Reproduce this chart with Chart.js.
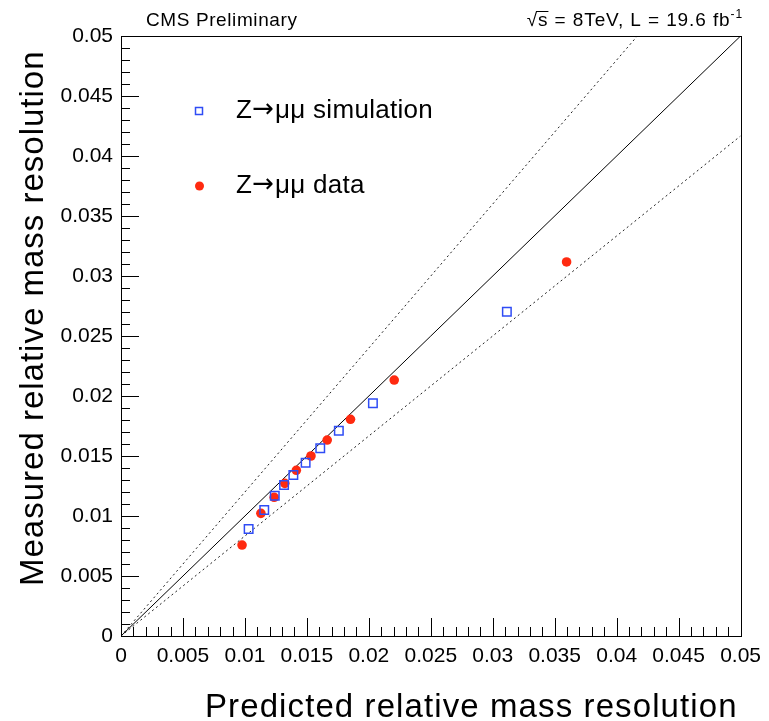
<!DOCTYPE html>
<html>
<head>
<meta charset="utf-8">
<script src="https://cdn.jsdelivr.net/npm/chart.js@4.4.1/dist/chart.umd.min.js"></script>
<style>
  html, body { margin: 0; padding: 0; background: #fff; }
  #c { display: block; }
</style>
</head>
<body>
<canvas id="c" width="769" height="721"></canvas>
<script>
'use strict';

// ===== data =====
const simX  = [0.0103, 0.01156, 0.01241, 0.01316, 0.01391, 0.0149, 0.01608, 0.01758, 0.02033, 0.03114];
const simY  = [0.00892, 0.0105, 0.01169, 0.01258, 0.01342, 0.01444, 0.01564, 0.01711, 0.01939, 0.02703];
const dataX = [0.00977, 0.01129, 0.01236, 0.01322, 0.01415, 0.01533, 0.01664, 0.01852, 0.02205, 0.03596];
const dataY = [0.00758, 0.01022, 0.01156, 0.01272, 0.01381, 0.0150, 0.01633, 0.01806, 0.02133, 0.03117];

// reference lines (end points)
const diagX  = [0, 0.05];
const diagY  = [0, 0.05];
const upperX = [0, 0.04167];
const upperY = [0, 0.05];
const lowerX = [0, 0.05];
const lowerY = [0, 0.04167];

const xTickLabels = ['0', '0.005', '0.01', '0.015', '0.02', '0.025', '0.03', '0.035', '0.04', '0.045', '0.05'];
const yTickLabels = ['0', '0.005', '0.01', '0.015', '0.02', '0.025', '0.03', '0.035', '0.04', '0.045', '0.05'];

const simLabel  = 'Z\u2192\u03bc\u03bc simulation';
const dataLabel = 'Z\u2192\u03bc\u03bc data';

// ===== style =====
const BLUE = '#2f4cf5';
const RED  = '#ff2a10';
const FONT = '"Liberation Sans", Arial, Helvetica, sans-serif';

function pts(xs, ys) {
  return xs.map((x, i) => ({ x: x, y: ys[i] }));
}

function text(ctx, str, x, y, size, align, spacing, family) {
  ctx.font = size + 'px ' + (family || FONT);
  ctx.letterSpacing = (spacing || 0) + 'px';
  ctx.textAlign = align || 'left';
  ctx.textBaseline = 'alphabetic';
  ctx.fillText(str, x, y);
  return ctx.measureText(str).width;
}

// legend label drawn in pieces so the arrow comes from DejaVu
function legendLabel(ctx, label, x, y) {
  const parts = label.split('\u2192');
  let cx = x;
  cx += text(ctx, parts[0], cx, y, 26, 'left', 0.3);
  cx += text(ctx, '\u2192', cx, y - 1, 26, 'left', 0, '"DejaVu Sans", sans-serif');
  text(ctx, parts[1], cx + 1, y, 26, 'left', 0.3);
}

// frame, inward ticks, titles, legend
const decorations = {
  id: 'decorations',
  afterDraw(chart) {
    const ctx = chart.ctx;
    const a = chart.chartArea;
    const xs = chart.scales.x;
    const ys = chart.scales.y;

    ctx.save();
    ctx.strokeStyle = '#000';
    ctx.lineWidth = 1;

    // frame
    ctx.strokeRect(Math.round(a.left) + 0.5, Math.round(a.top) + 0.5,
                   Math.round(a.right - a.left), Math.round(a.bottom - a.top));

    // ticks
    ctx.beginPath();
    const xv = xs.ticks.map(t => t.value);
    xv.forEach((v, i) => {
      const px = Math.round(xs.getPixelForValue(v)) + 0.5;
      ctx.moveTo(px, a.bottom); ctx.lineTo(px, a.bottom - 18);
      if (i < xv.length - 1) {
        const step = (xv[i + 1] - v) / 5;
        for (let k = 1; k < 5; k++) {
          const mx = Math.round(xs.getPixelForValue(v + k * step)) + 0.5;
          ctx.moveTo(mx, a.bottom); ctx.lineTo(mx, a.bottom - 9);
        }
      }
    });
    const yv = ys.ticks.map(t => t.value);
    yv.forEach((v, i) => {
      const py = Math.round(ys.getPixelForValue(v)) + 0.5;
      ctx.moveTo(a.left, py); ctx.lineTo(a.left + 18, py);
      if (i < yv.length - 1) {
        const step = (yv[i + 1] - v) / 5;
        for (let k = 1; k < 5; k++) {
          const my = Math.round(ys.getPixelForValue(v + k * step)) + 0.5;
          ctx.moveTo(a.left, my); ctx.lineTo(a.left + 9, my);
        }
      }
    });
    ctx.stroke();

    ctx.fillStyle = '#000';

    // header
    text(ctx, 'CMS Preliminary', 146, 26, 19, 'left', 0.6);
    ctx.font = '19px ' + FONT;
    ctx.letterSpacing = '0.9px';
    const mainTxt = '\u221as = 8TeV, L = 19.6 fb';
    const w1 = ctx.measureText(mainTxt).width;
    ctx.font = '12px ' + FONT;
    const w2 = ctx.measureText('-1').width;
    const x0 = 743 - w1 - w2;
    text(ctx, mainTxt, x0, 26, 19, 'left', 0.9);
    text(ctx, '-1', x0 + w1, 18, 12, 'left', 0.9);
    // overline on sqrt
    ctx.font = '19px ' + FONT;
    const wr = ctx.measureText('\u221a').width;
    const ws = ctx.measureText('s').width;
    ctx.beginPath();
    ctx.moveTo(x0 + wr - 2, 11.5); ctx.lineTo(x0 + wr + ws, 11.5);
    ctx.stroke();

    // axis titles
    text(ctx, 'Predicted relative mass resolution', 205, 717, 33, 'left', 1.1);
    ctx.save();
    ctx.translate(43, 586);
    ctx.rotate(-Math.PI / 2);
    text(ctx, 'Measured relative mass resolution', 0, 0, 33, 'left', 1);
    ctx.restore();

    // legend
    ctx.strokeStyle = BLUE;
    ctx.lineWidth = 1.5;
    ctx.strokeRect(195.5, 107.5, 7, 7);
    legendLabel(ctx, simLabel, 236, 118);
    ctx.fillStyle = RED;
    ctx.beginPath();
    ctx.arc(199.5, 186, 4.5, 0, Math.PI * 2);
    ctx.fill();
    ctx.fillStyle = '#000';
    legendLabel(ctx, dataLabel, 236, 193);

    ctx.restore();
  }
};

const tickFont = { family: FONT, size: 21 };

new Chart(document.getElementById('c'), {
  type: 'scatter',
  data: {
    datasets: [
      {
        label: simLabel,
        data: pts(simX, simY),
        pointStyle: 'rect',
        pointRadius: 6,
        pointBorderWidth: 1.5,
        borderColor: BLUE,
        backgroundColor: 'rgba(0,0,0,0)',
      },
      {
        label: dataLabel,
        data: pts(dataX, dataY),
        pointStyle: 'circle',
        pointRadius: 4.8,
        pointBorderWidth: 0,
        borderColor: RED,
        backgroundColor: RED,
      },
      {
        data: pts(diagX, diagY),
        showLine: true,
        borderColor: '#000',
        borderWidth: 1,
        pointRadius: 0,
      },
      {
        data: pts(upperX, upperY),
        showLine: true,
        borderColor: '#222',
        borderWidth: 1,
        borderDash: [2, 3],
        pointRadius: 0,
      },
      {
        data: pts(lowerX, lowerY),
        showLine: true,
        borderColor: '#222',
        borderWidth: 1,
        borderDash: [2, 3],
        pointRadius: 0,
      },
    ],
  },
  options: {
    responsive: false,
    animation: false,
    devicePixelRatio: 1,
    layout: { padding: { top: 36, right: 25, left: 0, bottom: 0 } },
    plugins: {
      legend: { display: false },
      tooltip: { enabled: false },
    },
    scales: {
      x: {
        type: 'linear',
        min: 0,
        max: 0.05,
        afterFit: s => { s.height = 85; },
        grid: { display: false, drawTicks: false },
        border: { display: false },
        ticks: {
          stepSize: 0.005,
          autoSkip: false,
          maxRotation: 0,
          padding: 8,
          color: '#000',
          font: tickFont,
          callback: (v, i) => xTickLabels[i],
        },
      },
      y: {
        type: 'linear',
        min: 0,
        max: 0.05,
        afterFit: s => { s.width = 121; },
        grid: { display: false, drawTicks: false },
        border: { display: false },
        ticks: {
          stepSize: 0.005,
          autoSkip: false,
          padding: 8,
          color: '#000',
          font: tickFont,
          callback: (v, i) => yTickLabels[i],
        },
      },
    },
  },
  plugins: [decorations],
});
</script>
</body>
</html>
